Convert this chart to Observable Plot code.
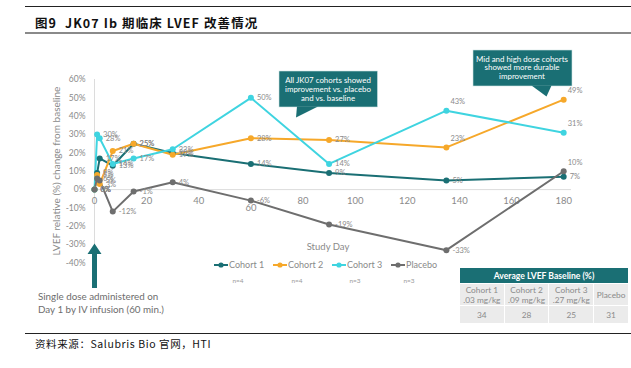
<!DOCTYPE html>
<html>
<head>
<meta charset="utf-8">
<script src="https://cdn.jsdelivr.net/npm/d3@7"></script>
<script src="https://cdn.jsdelivr.net/npm/@observablehq/plot@0.6"></script>
<style>
  html, body { margin: 0; padding: 0; background: #fff; }
  #wrap { position: relative; width: 631px; height: 368px; overflow: hidden; background: #fff; font-family: Lato, "Noto Sans", sans-serif; }
  .abs { position: absolute; }
  #title { left: 35px; top: 13px; font-family: "Noto Sans CJK SC", sans-serif; font-weight: bold; font-size: 12.5px; letter-spacing: 1.1px; color: #111; white-space: pre; }
  #lineTop { left: 25px; top: 6px; width: 606px; height: 1px; background: #222; }
  #lineTitle { left: 25px; top: 32px; width: 606px; height: 2px; background: #8a8a8a; }
  #lineBottom { left: 25px; top: 333px; width: 606px; height: 1px; background: #222; }
  #source { left: 35px; top: 336px; font-family: "Noto Sans CJK SC", sans-serif; font-size: 10.5px; letter-spacing: 0.6px; color: #111; white-space: pre; }
  #note { left: 38px; top: 290px; font-size: 9.8px; color: #6d6d6d; line-height: 13px; white-space: pre; }
  #ylab { left: 56px; top: 171px; transform: translate(-50%, -50%) rotate(-90deg); font-size: 10px; color: #8a8a8a; white-space: nowrap; }
  #xlab { left: 328px; top: 246px; transform: translate(-50%, -50%); font-size: 9.5px; color: #8a8a8a; white-space: nowrap; }
  table#base { left: 459px; top: 267px; width: 170px; border-collapse: collapse; font-size: 8.3px; color: #8a8a8a; text-align: center; }
  #base td { background: #ebebeb; border: 1px solid #fff; padding: 0; }
  #base th { background: #1a6f74; color: #fff; font-weight: bold; font-size: 8.6px; height: 15px; padding: 0; border: 1px solid #fff; }
</style>
</head>
<body>
<div id="wrap"></div>
<script>
// ---- data ----
const days = [0, 1, 2, 7, 15, 30, 60, 90, 135, 180];
const cohort1 = [0, 9, 17, 13, 25, 20, 14, 9, 5, 7];
const cohort2 = [0, 8, 3, 21, 25, 19, 28, 27, 23, 49];
const cohort3 = [0, 30, 28, 14, 17, 22, 50, 14, 43, 31];
const placebo = [0, 6, 5, -12, -1, 4, -6, -19, -33, 10];
const seriesNames = ["Cohort 1", "Cohort 2", "Cohort 3", "Placebo"];
const seriesN = ["n=4", "n=4", "n=3", "n=3"];
const seriesColors = ["#1a6f74", "#f6a82a", "#3fd4e0", "#6e6e6e"];
const xTicks = [0, 20, 40, 60, 80, 100, 120, 140, 160, 180];
const yTicks = [-40, -30, -20, -10, 0, 10, 20, 30, 40, 50, 60];
const tableHeader = "Average LVEF Baseline (%)";
const tableCols = ["Cohort 1<br>.03 mg/kg", "Cohort 2<br>.09 mg/kg", "Cohort 3<br>.27 mg/kg", "Placebo"];
const tableVals = [34, 28, 25, 31];
const callout1 = ["All JK07 cohorts showed", "improvement vs. placebo", "and vs. baseline"];
const callout2 = ["Mid and high dose cohorts", "showed more durable", "improvement"];
const noteText = "Single dose administered on\nDay 1 by IV infusion (60 min.)";
const titleText = "图9  JK07 Ib 期临床 LVEF 改善情况";
const sourceText = "资料来源：Salubris Bio 官网，HTI";

const valueSets = [cohort1, cohort2, cohort3, placebo];
const rows = [];
seriesNames.forEach((s, i) => valueSets[i].forEach((v, j) => rows.push({series: s, day: days[j], value: v})));

const wrap = document.getElementById("wrap");
const font = "Lato, 'Noto Sans', sans-serif";

// x tick labels that sit on a data label are pushed lower, as in the source chart
const clash = t => rows.some(d => d.day === t && d.value < 0 && d.value > -10);

const chart = Plot.plot({
  width: 631,
  height: 368,
  marginLeft: 94,
  marginRight: 60,
  marginTop: 79,
  marginBottom: 105.5,
  style: {background: "transparent", fontFamily: font, overflow: "visible"},
  x: {domain: [0, 183], axis: null},
  y: {domain: [-40, 60], axis: null},
  color: {domain: seriesNames, range: seriesColors},
  marks: [
    Plot.ruleX([0], {stroke: "#dcdcdc", strokeWidth: 1}),
    Plot.ruleY([0], {stroke: "#dcdcdc", strokeWidth: 1}),
    Plot.axisY({ticks: yTicks, tickFormat: d => d + "%", tickSize: 0, tickPadding: 9, fill: "#8a8a8a", fontSize: 8.5, label: null}),
    Plot.text(xTicks.filter(t => !clash(t) || t === 0), {x: d => d, y: 0, text: d => String(d), dy: 11, fill: "#8a8a8a", fontSize: 9.5}),
    Plot.text(xTicks.filter(t => clash(t) && t !== 0), {x: d => d, y: 0, text: d => String(d), dy: 18, fill: "#8a8a8a", fontSize: 9.5}),
    Plot.line(rows, {x: "day", y: "value", z: "series", stroke: "series", strokeWidth: 2}),
    Plot.dot(rows, {x: "day", y: "value", fill: "series", r: 3}),
    Plot.text(rows.filter(d => d.day < 135), {x: "day", y: "value", text: d => d.value + "%", dx: 6, textAnchor: "start", fill: "#8a8a8a", fontSize: 7.5}),
    Plot.text(rows.filter(d => d.day >= 135 && d.series !== "Cohort 1" && !(d.day === 135 && d.series === "Placebo")), {x: "day", y: "value", text: d => d.value + "%", dx: 4, dy: -9, textAnchor: "start", fill: "#8a8a8a", fontSize: 7.5}),
    Plot.text(rows.filter(d => d.day >= 135 && (d.series === "Cohort 1" || (d.day === 135 && d.series === "Placebo"))), {x: "day", y: "value", text: d => d.value + "%", dx: 6, textAnchor: "start", fill: "#8a8a8a", fontSize: 7.5})
  ]
});
chart.style.position = "absolute";
chart.style.left = "0px";
chart.style.top = "0px";
wrap.appendChild(chart);

function add(html, id) {
  const d = document.createElement("div");
  d.className = "abs";
  if (id) d.id = id;
  d.innerHTML = html;
  wrap.appendChild(d);
  return d;
}
add("", "lineTop");
add("", "lineTitle");
add("", "lineBottom");
add(titleText, "title");
add(sourceText, "source");
add("LVEF relative (%) change from baseline", "ylab");
add("Study Day", "xlab");
add(noteText, "note");

// overlay svg for arrow, callouts and legend
const ns = "http://www.w3.org/2000/svg";
const ov = document.createElementNS(ns, "svg");
ov.setAttribute("width", 631); ov.setAttribute("height", 368);
ov.style.position = "absolute"; ov.style.left = "0"; ov.style.top = "0";
ov.innerHTML = `
  <path d="M92,288 L92,254 L87.5,254 L94.5,243.5 L101.5,254 L97,254 L97,288 Z" fill="#1a6f74"/>
  <rect x="279" y="71" width="98.5" height="36" fill="#1a6f74" stroke="#cfe3e4" stroke-width="0.6"/>
  <path d="M297,106.5 L318,106.5 L296,117.5 Z" fill="#1a6f74"/>
  <rect x="473" y="50" width="99" height="36" fill="#1a6f74" stroke="#cfe3e4" stroke-width="0.6"/>
  <path d="M531.5,85.5 L551.5,85.5 L546.5,96.5 Z" fill="#1a6f74"/>
`;
wrap.appendChild(ov);

function textLines(lines, cx, y0, step) {
  lines.forEach((t, i) => {
    const el = document.createElementNS(ns, "text");
    el.setAttribute("x", cx); el.setAttribute("y", y0 + i * step);
    el.setAttribute("text-anchor", "middle");
    el.setAttribute("fill", "#fff");
    el.setAttribute("font-size", "7.9");
    el.setAttribute("font-family", font);
    el.textContent = t;
    ov.appendChild(el);
  });
}
textLines(callout1, 328, 83, 9);
textLines(callout2, 522, 61.5, 8.8);

// legend
const legX = [214, 273, 332, 391];
const nX = [238, 297, 355, 409];
seriesNames.forEach((s, i) => {
  const g = document.createElementNS(ns, "g");
  g.innerHTML = `<line x1="${legX[i]}" x2="${legX[i] + 14}" y1="265" y2="265" stroke="${seriesColors[i]}" stroke-width="2"/>
    <circle cx="${legX[i] + 7}" cy="265" r="2.6" fill="${seriesColors[i]}"/>
    <text x="${legX[i] + 15}" y="268.3" font-size="9" fill="#8a8a8a" font-family="${font}">${s}</text>
    <text x="${nX[i]}" y="283" font-size="6.5" fill="#9a9a9a" text-anchor="middle" font-family="${font}">${seriesN[i]}</text>`;
  ov.appendChild(g);
});

// table
const tbl = document.createElement("table");
tbl.id = "base"; tbl.className = "abs";
tbl.innerHTML = `<tr><th colspan="4">${tableHeader}</th></tr>
<tr style="height:22px">${tableCols.map(c => `<td style="line-height:10px">${c}</td>`).join("")}</tr>
<tr style="height:18px">${tableVals.map(v => `<td>${v}</td>`).join("")}</tr>`;
wrap.appendChild(tbl);
</script>
</body>
</html>
